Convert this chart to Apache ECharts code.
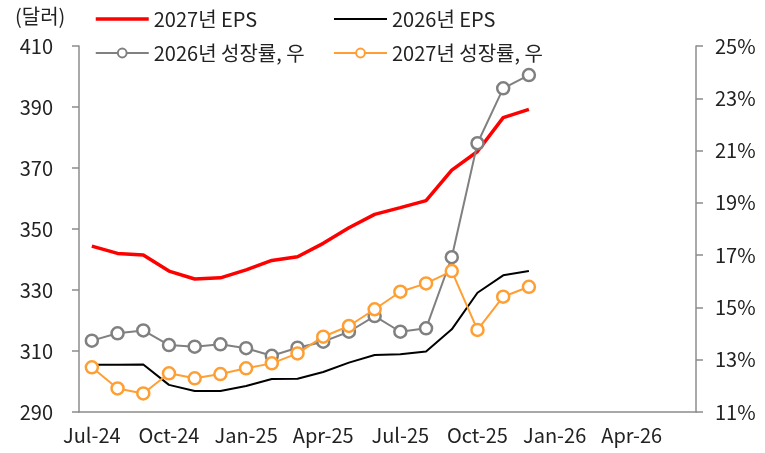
<!DOCTYPE html>
<html>
<head>
<meta charset="utf-8">
<script src="https://cdn.jsdelivr.net/npm/echarts@6/dist/echarts.min.js"></script>
<style>
  html, body { margin: 0; padding: 0; background: #fff; }
  #myChart { width: 765px; height: 453px; }
</style>
</head>
<body>
<div id="myChart"></div>
<script>
// x축: 월별 카테고리 (3개월마다 라벨)
const months = ['Jul-24', 'Aug-24', 'Sep-24', 'Oct-24', 'Nov-24', 'Dec-24',
  'Jan-25', 'Feb-25', 'Mar-25', 'Apr-25', 'May-25', 'Jun-25',
  'Jul-25', 'Aug-25', 'Sep-25', 'Oct-25', 'Nov-25', 'Dec-25',
  'Jan-26', 'Feb-26', 'Mar-26', 'Apr-26', 'May-26', 'Jun-26']

// EPS (달러, 좌축)
const eps2027 = [344.4, 342.0, 341.5, 336.2, 333.6, 334.0, 336.6, 339.7, 340.9,
  345.3, 350.4, 354.8, 357.0, 359.3, 369.3, 375.4, 386.5, 389.2]
const eps2026 = [305.5, 305.5, 305.6, 298.9, 296.9, 296.9, 298.5, 300.8, 300.9,
  303.1, 306.2, 308.7, 308.9, 309.8, 317.1, 329.1, 334.8, 336.2]

// 성장률 (%, 우축)
const growth2026 = [13.73, 14.01, 14.12, 13.56, 13.50, 13.59, 13.44, 13.15, 13.46,
  13.69, 14.07, 14.67, 14.07, 14.20, 16.92, 21.28, 23.38, 23.89]
const growth2027 = [12.71, 11.90, 11.71, 12.48, 12.29, 12.45, 12.67, 12.86, 13.24,
  13.88, 14.29, 14.93, 15.60, 15.92, 16.39, 14.14, 15.41, 15.79]

const font = "'Noto Sans CJK KR', 'Noto Sans', sans-serif"
const axisColor = '#8c8c8c'
const legendText = { fontSize: 20, color: '#222', lineHeight: 22, fontFamily: font }

let myChart = echarts.init(document.getElementById('myChart'))
myChart.setOption({
  animation: false,
  textStyle: { fontFamily: font },
  title: {
    text: '(달러)',
    left: 10,
    top: 1,
    textStyle: { fontSize: 20, fontWeight: 'normal', color: '#222', fontFamily: font }
  },
  legend: [
    {
      orient: 'vertical',
      left: 89,
      top: 3,
      itemWidth: 53,
      itemHeight: 11,
      itemGap: 12,
      textStyle: legendText,
      data: [
        { name: '2027년 EPS', itemStyle: { opacity: 0 }, lineStyle: { width: 3.5 } },
        { name: '2026년 성장률, 우', lineStyle: { width: 2 } }
      ]
    },
    {
      orient: 'vertical',
      left: 328,
      top: 3,
      itemWidth: 53,
      itemHeight: 11,
      itemGap: 12,
      textStyle: legendText,
      data: [
        { name: '2026년 EPS', itemStyle: { opacity: 0 }, lineStyle: { width: 2 } },
        { name: '2027년 성장률, 우', lineStyle: { width: 2 } }
      ]
    }
  ],
  grid: { left: 79, right: 69, top: 46, bottom: 41 },
  xAxis: {
    type: 'category',
    data: months,
    boundaryGap: true,
    axisLine: { lineStyle: { color: axisColor, width: 1.5 } },
    axisTick: { interval: 2, length: 7, lineStyle: { color: axisColor, width: 1.5 } },
    axisLabel: { interval: 2, margin: 13, fontSize: 20, color: '#222', fontFamily: font },
    splitLine: { show: false }
  },
  yAxis: [
    {
      type: 'value',
      min: 290,
      max: 410,
      interval: 20,
      axisLine: { show: true, lineStyle: { color: axisColor, width: 1.5 } },
      axisTick: { show: true, length: 7, lineStyle: { color: axisColor, width: 1.5 } },
      axisLabel: { margin: 26, fontSize: 20, color: '#222', fontFamily: font },
      splitLine: { show: false }
    },
    {
      type: 'value',
      min: 11,
      max: 25,
      interval: 2,
      position: 'right',
      axisLine: { show: true, lineStyle: { color: axisColor, width: 1.5 } },
      axisTick: { show: true, length: 7, lineStyle: { color: axisColor, width: 1.5 } },
      axisLabel: { margin: 19, fontSize: 20, color: '#222', fontFamily: font, formatter: '{value}%' },
      splitLine: { show: false }
    }
  ],
  series: [
    {
      name: '2027년 EPS',
      type: 'line',
      yAxisIndex: 0,
      data: eps2027,
      symbol: 'none',
      lineStyle: { color: '#ff0000', width: 3.5 },
      itemStyle: { color: '#ff0000' },
      z: 2
    },
    {
      name: '2026년 EPS',
      type: 'line',
      yAxisIndex: 0,
      data: eps2026,
      symbol: 'none',
      lineStyle: { color: '#000000', width: 2 },
      itemStyle: { color: '#000000' },
      z: 2
    },
    {
      name: '2026년 성장률, 우',
      type: 'line',
      yAxisIndex: 1,
      data: growth2026,
      symbol: 'circle',
      symbolSize: 12,
      lineStyle: { color: '#808080', width: 2 },
      itemStyle: { color: '#ffffff', borderColor: '#808080', borderWidth: 2.5 },
      z: 3
    },
    {
      name: '2027년 성장률, 우',
      type: 'line',
      yAxisIndex: 1,
      data: growth2027,
      symbol: 'circle',
      symbolSize: 12,
      lineStyle: { color: '#ff9f33', width: 2 },
      itemStyle: { color: '#ffffff', borderColor: '#ff9f33', borderWidth: 2.5 },
      z: 4
    }
  ]
})
window.addEventListener('resize', function () { myChart.resize() })
</script>
</body>
</html>
